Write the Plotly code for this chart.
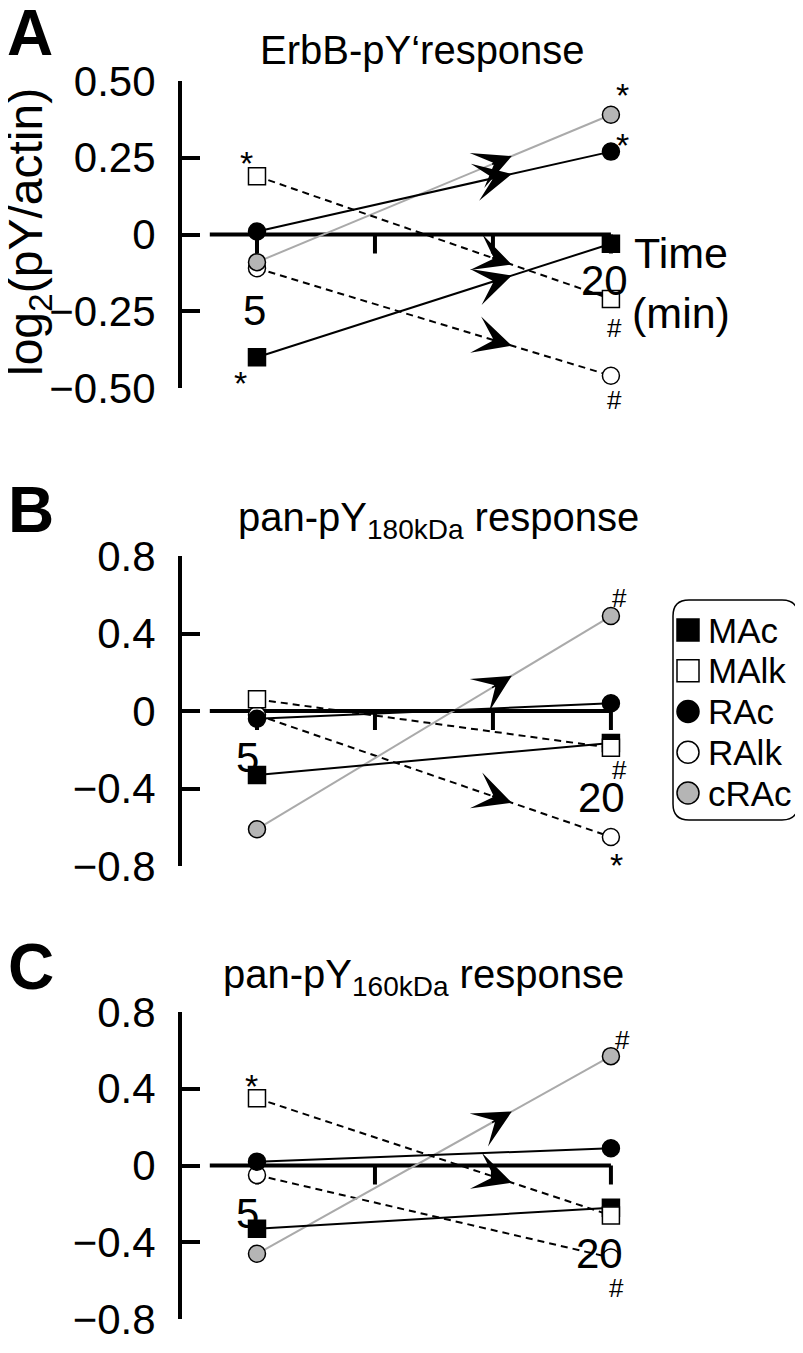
import plotly.graph_objects as go

# ---------------- data ----------------
series = ["MAc", "MAlk", "RAc", "RAlk", "cRAc"]
time_min = [5, 20]
x_tick_vals = [5, 10, 15, 20]

erbb_MAc = [-0.40, -0.03]
erbb_MAlk = [0.19, -0.21]
erbb_RAc = [0.01, 0.27]
erbb_RAlk = [-0.11, -0.46]
erbb_cRAc = [-0.09, 0.39]

p180_MAc = [-0.33, -0.165]
p180_MAlk = [0.06, -0.19]
p180_RAc = [-0.04, 0.04]
p180_RAlk = [-0.02, -0.65]
p180_cRAc = [-0.61, 0.49]

p160_MAc = [-0.33, -0.22]
p160_MAlk = [0.35, -0.26]
p160_RAc = [0.02, 0.09]
p160_RAlk = [-0.05, -0.48]
p160_cRAc = [-0.46, 0.57]

yticks_A = [0.5, 0.25, 0, -0.25, -0.5]
ytext_A = ["0.50", "0.25", "0", "\u22120.25", "\u22120.50"]
yticks_BC = [0.8, 0.4, 0, -0.4, -0.8]
ytext_BC = ["0.8", "0.4", "0", "\u22120.4", "\u22120.8"]

titles = ["ErbB-pY\u2018response",
          "pan-pY<sub>180kDa</sub> response",
          "pan-pY<sub>160kDa</sub> response"]
letters = ["A", "B", "C"]
y_title = "log<sub>2</sub>(pY/actin)"
x_title_lines = ["Time", "(min)"]

sig_A = [("MAlk", 0, "*"), ("MAc", 0, "*"), ("cRAc", 1, "*"),
         ("RAc", 1, "*"), ("MAlk", 1, "#"), ("RAlk", 1, "#")]
sig_B = [("cRAc", 1, "#"), ("MAlk", 1, "#"), ("RAlk", 1, "*")]
sig_C = [("MAlk", 0, "*"), ("cRAc", 1, "#"), ("RAlk", 1, "#")]

arrows_A = ["MAc", "MAlk", "RAc", "RAlk", "cRAc"]
arrows_B = ["cRAc", "RAlk"]
arrows_C = ["cRAc", "MAlk"]

# ---------------- layout / style ----------------
PAGE_W, PAGE_H = 803, 1353
OFF = 8                      # default body margin of the html page
W, H = PAGE_W - OFF, PAGE_H - 2 * OFF
FONT = "Liberation Sans, Arial, Helvetica, sans-serif"


def PX(x):
    return (x - OFF) / W


def PY(y):
    return 1 - (y - OFF) / H


x_range = [1.822, 22.08]
x_domain = [PX(182), PX(660)]

panels = [
    dict(data=dict(MAc=erbb_MAc, MAlk=erbb_MAlk, RAc=erbb_RAc, RAlk=erbb_RAlk, cRAc=erbb_cRAc),
         ytop=81, ybot=388, rng=[-0.5, 0.5], tv=yticks_A, tt=ytext_A,
         sig=sig_A, arrows=arrows_A,
         sig_off=[(-10, 13), (-16, -26), (12, 20), (12, 6.5), (4, -29), (4, -24)],
         letter=(30, 33), title=(422, 50),
         five=(-2, -75.5), twenty=(-6, -45.5)),
    dict(data=dict(MAc=p180_MAc, MAlk=p180_MAlk, RAc=p180_RAc, RAlk=p180_RAlk, cRAc=p180_cRAc),
         ytop=556, ybot=866, rng=[-0.8, 0.8], tv=yticks_BC, tt=ytext_BC,
         sig=sig_B, arrows=arrows_B,
         sig_off=[(9, 18), (9, -22), (6, -28)],
         letter=(31, 510), title=(438, 520),
         five=(-9, -46), twenty=(-9, -86)),
    dict(data=dict(MAc=p160_MAc, MAlk=p160_MAlk, RAc=p160_RAc, RAlk=p160_RAlk, cRAc=p160_cRAc),
         ytop=1012, ybot=1319, rng=[-0.8, 0.8], tv=yticks_BC, tt=ytext_BC,
         sig=sig_C, arrows=arrows_C,
         sig_off=[(-5, 12), (12, 16), (6, -30)],
         letter=(31, 967), title=(423, 977),
         five=(-9, -47.5), twenty=(-11, -87.5)),
]

GRAY_FILL = "#b5b5b5"
GRAY_LINE = "#aaaaaa"
DASH = "7px,5px"
style = {
    "MAc": dict(symbol="square", fill="black", lcolor="black", dash="solid"),
    "MAlk": dict(symbol="square", fill="white", lcolor="black", dash=DASH),
    "RAc": dict(symbol="circle", fill="black", lcolor="black", dash="solid"),
    "RAlk": dict(symbol="circle", fill="white", lcolor="black", dash=DASH),
    "cRAc": dict(symbol="circle", fill=GRAY_FILL, lcolor=GRAY_LINE, dash="solid"),
}
draw_order = ["RAlk", "cRAc", "MAc", "MAlk", "RAc"]


def txt(**kw):
    d = dict(showarrow=False, xanchor="center", yanchor="middle")
    d.update(kw)
    return d


def ft(size, bold=False):
    return dict(size=size, family=FONT, color="black")


fig = go.Figure()
annotations = []
shapes = []
layout_axes = {}

for i, p in enumerate(panels):
    n = "" if i == 0 else str(i + 1)
    xr, yr = "x" + n, "y" + n
    layout_axes["xaxis" + n] = dict(domain=x_domain, range=x_range, anchor=yr,
                                   visible=False, fixedrange=True)
    layout_axes["yaxis" + n] = dict(
        domain=[PY(p["ybot"]), PY(p["ytop"])], range=p["rng"], anchor=xr,
        showline=True, linewidth=4, linecolor="black",
        ticks="inside", ticklen=18, tickwidth=4, tickcolor="black",
        tickvals=p["tv"], ticktext=p["tt"], tickfont=ft(42),
        ticklabelstandoff=14, showgrid=False, zeroline=False, fixedrange=True,
        automargin=False)

    px_per_unit = (p["ybot"] - p["ytop"]) / (p["rng"][1] - p["rng"][0])

    # x axis through zero with downward ticks
    shapes.append(dict(type="line", xref=xr, yref=yr, x0=3.0, x1=x_tick_vals[-1], y0=0, y1=0,
                       line=dict(color="black", width=4), layer="below"))
    tick_len = 19 / px_per_unit
    for tv in x_tick_vals:
        shapes.append(dict(type="line", xref=xr, yref=yr, x0=tv, x1=tv, y0=0, y1=-tick_len,
                           line=dict(color="black", width=4), layer="below"))

    # series
    for s in draw_order:
        st = style[s]
        fig.add_trace(go.Scatter(
            x=time_min, y=p["data"][s], mode="lines+markers", xaxis=xr, yaxis=yr,
            line=dict(color=st["lcolor"], width=2, dash=st["dash"]),
            marker=dict(symbol=st["symbol"], size=17, color=st["fill"],
                        line=dict(color="black", width=1.5)),
            cliponaxis=False, showlegend=False, name=s, hoverinfo="skip"))

    # arrowheads along lines
    for s in p["arrows"]:
        y0, y1 = p["data"][s]
        t_tip, t_tail = 15.8, 14.9
        f = lambda t: y0 + (y1 - y0) * (t - time_min[0]) / (time_min[1] - time_min[0])
        annotations.append(dict(
            x=t_tip, y=f(t_tip), ax=t_tail, ay=f(t_tail), xref=xr, yref=yr,
            axref=xr, ayref=yr, text="", showarrow=True, arrowhead=3,
            arrowsize=4.2, arrowwidth=1.5, arrowcolor="black", standoff=0))

    # significance marks
    for (s, k, sym), (dx, dy) in zip(p["sig"], p["sig_off"]):
        annotations.append(txt(
            x=time_min[k], y=p["data"][s][k], xref=xr, yref=yr, text=sym,
            xshift=dx, yshift=dy, font=ft(34 if sym == "*" else 26)))

    # x tick labels
    annotations.append(txt(x=time_min[0], y=0, xref=xr, yref=yr, text=str(time_min[0]),
                           xshift=p["five"][0], yshift=p["five"][1], font=ft(42)))
    annotations.append(txt(x=time_min[1], y=0, xref=xr, yref=yr, text=str(time_min[1]),
                           xshift=p["twenty"][0], yshift=p["twenty"][1], font=ft(42)))

    # panel letter and title
    annotations.append(txt(x=PX(p["letter"][0]), y=PY(p["letter"][1]), xref="paper", yref="paper",
                           text="<b>%s</b>" % letters[i], font=ft(64)))
    annotations.append(txt(x=PX(p["title"][0]), y=PY(p["title"][1]), xref="paper", yref="paper",
                           text=titles[i], font=ft(40)))

# Time (min) label in panel A
for line_txt, dy in zip(x_title_lines, [-18.5, -78.5]):
    annotations.append(txt(x=time_min[1], y=0, xref="x", yref="y", text=line_txt,
                           xshift=70, yshift=dy, font=ft(43)))

# y axis title
annotations.append(txt(x=PX(29), y=PY(232), xref="paper", yref="paper", text=y_title,
                       textangle=-90, font=ft(48)))

# ---------------- manual legend ----------------
layout_axes["xaxis4"] = dict(domain=[PX(670), PX(801)], range=[-3, 128], anchor="y4",
                             visible=False, fixedrange=True)
layout_axes["yaxis4"] = dict(domain=[PY(823), PY(597)], range=[223, -3], anchor="x4",
                             visible=False, fixedrange=True)
leg_y = [30 + 40.75 * i for i in range(len(series))]
for s, yy in zip(series, leg_y):
    st = style[s]
    fig.add_trace(go.Scatter(
        x=[15], y=[yy], mode="markers", xaxis="x4", yaxis="y4",
        marker=dict(symbol=st["symbol"], size=22, color=st["fill"],
                    line=dict(color="black", width=1.5)),
        cliponaxis=False, showlegend=False, name=s, hoverinfo="skip"))
    annotations.append(txt(x=33, y=yy, xref="x4", yref="y4", text=s, xanchor="left",
                           font=ft(35)))
r = 16
bw, bh = 125, 220
path = (f"M {r},0 H {bw - r} Q {bw},0 {bw},{r} V {bh - r} Q {bw},{bh} {bw - r},{bh} "
        f"H {r} Q 0,{bh} 0,{bh - r} V {r} Q 0,0 {r},0 Z")
shapes.append(dict(type="path", path=path, xref="x4", yref="y4",
                   line=dict(color="black", width=1.5), layer="below"))

fig.update_layout(
    width=W, height=H, margin=dict(l=0, r=0, t=0, b=0, autoexpand=False),
    paper_bgcolor="white", plot_bgcolor="white", showlegend=False,
    annotations=annotations, shapes=shapes, font=dict(family=FONT, color="black"),
    **layout_axes)

fig.write_html("out.html")
